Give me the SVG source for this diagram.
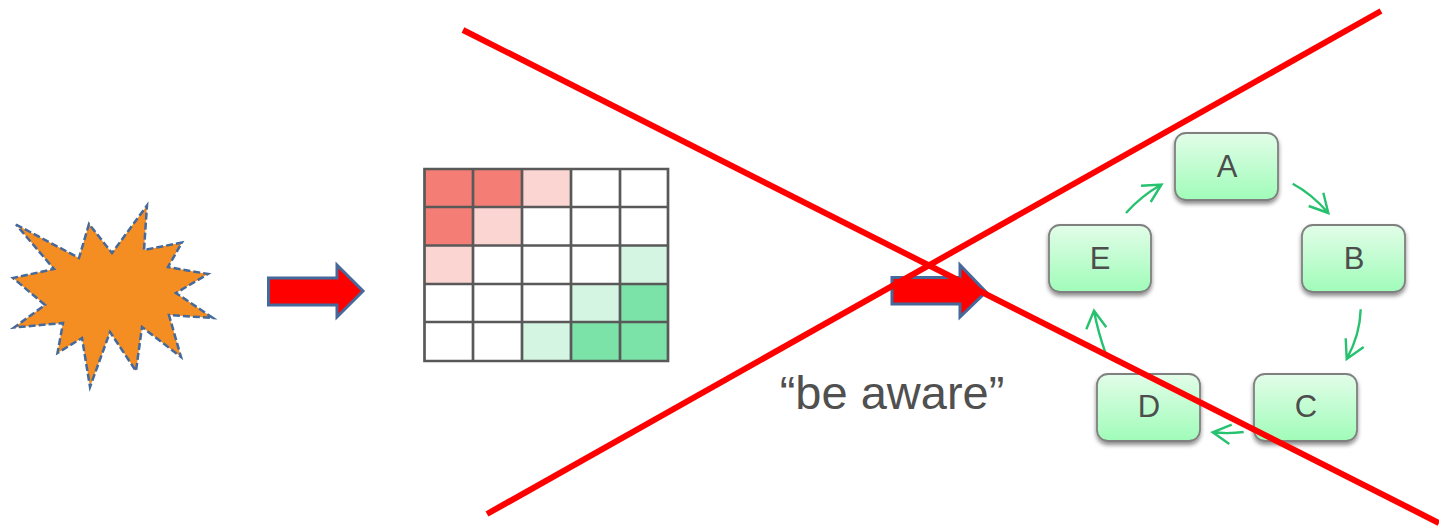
<svg xmlns="http://www.w3.org/2000/svg" width="1439" height="531" viewBox="0 0 1439 531">
<style>
.box{fill:url(#boxfill);stroke:#808080;stroke-width:1.8;filter:url(#shadow)}
.lbl{font-family:"Liberation Sans",Arial,sans-serif;font-size:31px;fill:#4d4d4d;text-anchor:middle}
.arrow{fill:#ff0000;stroke:#44699a;stroke-width:3}
.flow{fill:none;stroke:#27c26f;stroke-width:2.4}
.cross{stroke:#ff0000;stroke-width:6;fill:none}
.g{stroke:#595959;stroke-width:2.700;fill:none}
.r1{fill:#f47e76}.r2{fill:#fbd5d2}.g1{fill:#7be2a8}.g2{fill:#d3f5e2}
</style>
<defs>
<linearGradient id="boxfill" x1="0" y1="0" x2="0" y2="1"><stop offset="0" stop-color="#e2fde8"/><stop offset="1" stop-color="#a0fcb9"/></linearGradient>
<filter id="shadow" x="-10%" y="-10%" width="120%" height="130%"><feDropShadow dx="0" dy="3" stdDeviation="2.200" flood-color="#000" flood-opacity="0.45"/></filter>
</defs>
<g id="burst"><polygon points="16,224.500 79,258 89,224 112,253 147,205.500 144,250 182,242.500 168,267 208,274 176,293 213,318 169,315 181,357 142,327 136,371 110,332 90,387 82,338 57.500,353 63,323 14,327.500 45,305 13,278 54,269" fill="#f48d22" stroke="#44699a" stroke-width="2.500" stroke-dasharray="7 3"/></g>
<g id="arrow1"><polygon class="arrow" points="268.500,278 337,278 337,265 363,291 337,317 337,305 268.500,305"/></g>
<g id="matrix">
<rect class="r1" x="424.500" y="169" width="48.500" height="38"/><rect class="r1" x="473" y="169" width="49" height="38"/><rect class="r2" x="522" y="169" width="49" height="38"/>
<rect class="r1" x="424.500" y="207" width="48.500" height="38.500"/><rect class="r2" x="473" y="207" width="49" height="38.500"/>
<rect class="r2" x="424.500" y="245.500" width="48.500" height="38.500"/>
<rect class="g2" x="620" y="245.500" width="48" height="38.500"/>
<rect class="g2" x="571" y="284" width="49" height="38"/><rect class="g1" x="620" y="284" width="48" height="38"/>
<rect class="g2" x="522" y="322" width="49" height="39"/><rect class="g1" x="571" y="322" width="49" height="39"/><rect class="g1" x="620" y="322" width="48" height="39"/>
<path class="g" d="M424.500 169H668V361H424.500ZM424.500 207H668M424.500 245.500H668M424.500 284H668M424.500 322H668M473 169V361M522 169V361M571 169V361M620 169V361"/>
</g>
<g id="arrow2"><polygon class="arrow" points="892,277.500 960,277.500 960,265 986,292 960,317 960,304 892,304"/></g>
<text id="be-aware" x="892" y="409" font-family="'Liberation Sans',Arial,sans-serif" font-size="47" fill="#505050" text-anchor="middle">“be aware”</text>
<g id="node-a"><rect class="box" x="1175" y="133" width="103" height="67" rx="11"/><text class="lbl" x="1227" y="177">A</text></g>
<g id="node-b"><rect class="box" x="1302" y="225" width="103" height="67" rx="11"/><text class="lbl" x="1354" y="269">B</text></g>
<g id="node-c"><rect class="box" x="1254" y="374" width="103" height="67" rx="11"/><text class="lbl" x="1306" y="417">C</text></g>
<g id="node-d"><rect class="box" x="1097" y="374" width="103" height="67" rx="11"/><text class="lbl" x="1149" y="417">D</text></g>
<g id="node-e"><rect class="box" x="1049" y="225" width="102" height="67" rx="11"/><text class="lbl" x="1100" y="269">E</text></g>
<g id="connectors">
<path class="flow" d="M1126 213Q1141 196 1161.500 184.500M1141 185.700L1161.500 184.500L1150.700 202"/>
<path class="flow" d="M1292.700 183.700Q1312 194 1328.300 213M1323.300 192.700L1328.300 213L1308.700 206"/>
<path class="flow" d="M1360.700 309.300Q1360 335 1346.700 359M1345.700 338.300L1346.700 359L1363.700 347"/>
<path class="flow" d="M1243.700 432Q1228 434 1212.700 432.300M1231.700 424.700L1212.700 432.300L1229.300 444"/>
<path class="flow" d="M1105.300 352.300Q1098 332 1094 310.700M1086.300 329.300L1094 310.700L1106.300 327.300"/>
</g>
<g id="cross">
<line class="cross" x1="463" y1="30" x2="1439" y2="523"/>
<line class="cross" x1="487" y1="514" x2="1381" y2="11"/>
</g>
</svg>
